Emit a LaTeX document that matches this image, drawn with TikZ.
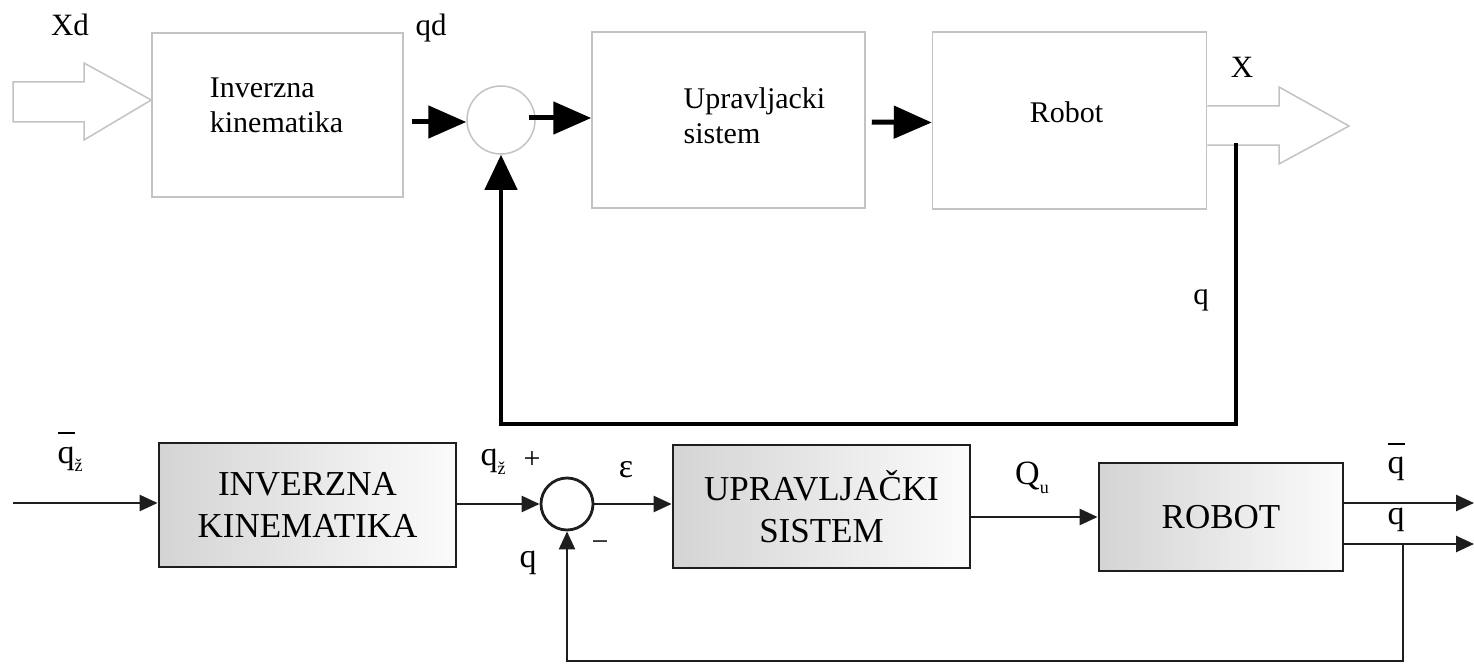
\documentclass[tikz,border=0pt]{standalone}
\usepackage{fontspec}
\setmainfont{Liberation Serif}
\usetikzlibrary{
    arrows.meta,
    positioning,
    calc
}
\definecolor{paleline}{RGB}{195, 195, 195}
\definecolor{darkline}{RGB}{30, 30, 30}
\definecolor{blockgray}{RGB}{212, 212, 212}

\newcommand{\barq}{\rlap{\rule[0.85em]{0.5em}{1.8pt}}q}
\newcommand{\lowsub}[1]{\raisebox{-0.25em}{\fontsize{18}{18}\selectfont #1}}

\begin{document}
\begin{tikzpicture}[x=1pt, y=-1pt,
        topbox/.style={rectangle, draw=paleline, line width=1.5pt, inner sep=0pt},
        toptext/.style={align=left, font=\fontsize{30}{35}\selectfont},
        toplabel/.style={font=\fontsize{31}{33}\selectfont},
        hollow/.style={draw=paleline, line width=1.5pt, fill=white, line join=miter},
        bigarrow/.style={-{Triangle[length=38pt, width=32pt]}, line width=5pt},
        fbline/.style={-{Triangle[length=35pt, width=32pt]}, line width=4.5pt},
        botbox/.style={rectangle, draw=darkline, line width=2.8pt, left color=blockgray, right color=gray!3, align=center, font=\fontsize{35}{42}\selectfont, inner sep=0pt},
        botlabel/.style={font=\fontsize{34}{36}\selectfont},
        signlabel/.style={font=\fontsize{30}{32}\selectfont},
        arrow/.style={-{Triangle[length=18pt, width=16pt]}, line width=2.6pt, draw=darkline}
    ]
        \useasboundingbox (0,0) rectangle (1474,666);

        % upper scheme
        \node[topbox, minimum width=251, minimum height=164] (ik) at (277.5,115) {};
        \node[toptext] (iktext) at ($(ik.center)+(-1,-10)$) {Inverzna\\kinematika};
        \node[circle, draw=paleline, line width=1.5pt, minimum size=68, inner sep=0pt] (sum1) at (501,120) {};
        \node[topbox, minimum width=273, minimum height=176] (us) at (728.5,120) {};
        \node[toptext] (ustext) at ($(us.center)+(26,-4)$) {Upravljacki\\sistem};
        \node[topbox, minimum width=274, minimum height=177] (rob) at (1069.5,120.5) {};
        \node[toptext] (robtext) at ($(rob.center)+(-3,-8)$) {Robot};

        \draw[hollow] (13,82) -- (84,82) -- (84,63) -- (ik.west |- 0,100) -- (84,140) -- (84,122) -- (13,122) -- cycle;
        \draw[hollow] (rob.east |- 0,106) -- (1279,106) -- (1279,87) -- (1349,126) -- (1279,164) -- (1279,145) -- (rob.east |- 0,145);

        \node[toplabel] (xd) at (70,25) {Xd};
        \node[toplabel] (qd) at (431,28) {qd};
        \node[toplabel] (xout) at (1242,67) {X};
        \node[toplabel] (qtop) at (1201,300) {q};

        \draw[bigarrow] ($(ik.east |- sum1)+(8,2)$) -- ($(sum1.west)+(0,2)$);
        \draw[bigarrow] ($(sum1.east)+(-7,-2)$) -- ($(us.west |- sum1)+(0,-2)$);
        \draw[bigarrow] ($(us.east)+(6,2)$) -- ($(rob.west)+(0,2)$);

        \coordinate (fbtop) at (1236,143);
        \coordinate (fbturn) at (1236,424);
        \draw[fbline] (fbtop) -- (fbturn) -| (sum1.south);

        % lower scheme
        \node[botbox, minimum width=297, minimum height=124] (bik) at (307.5,505) {INVERZNA\\KINEMATIKA};
        \node[circle, draw=darkline, line width=2.8pt, minimum size=52, inner sep=0pt] (sum2) at (567,504) {};
        \node[botbox, minimum width=297, minimum height=123] (bus) at (821.5,506.5) {UPRAVLJAČKI\\SISTEM};
        \node[botbox, minimum width=244, minimum height=108] (brob) at (1221,517) {ROBOT};

        \coordinate (inp) at (13,503);
        \coordinate (outbar) at (1474,503);
        \coordinate (outq) at (1474,544);
        \coordinate (fbsplit) at (1403,544);
        \coordinate (fbbot) at (1403,661);

        \draw[arrow] (inp) -- (bik.west |- inp);
        \draw[arrow] (bik.east |- sum2) -- (sum2.west);
        \draw[arrow] (sum2.east) -- (bus.west |- sum2);
        \draw[arrow] (bus.east |- brob.west) -- (brob.west);
        \draw[arrow] (brob.east |- outbar) -- (outbar);
        \draw[arrow] (brob.east |- outq) -- (outq);
        \draw[arrow] (fbsplit) -- (fbbot) -| (sum2.south);

        \node[botlabel] (qref) at (70,452) {\barq\lowsub{ž}};
        \node[botlabel] (qz) at (493,462) {q\lowsub{ž}};
        \node[signlabel] (plus) at (532,460) {+};
        \node[botlabel] (eps) at (626,470) {ε};
        \node[botlabel] (qfb) at (528,563) {q};
        \node[signlabel] (minus) at (600,546) {−};
        \node[botlabel] (qu) at (1032,478) {Q\lowsub{u}};
        \node[botlabel] (qbarout) at (1396,462) {\barq};
        \node[botlabel] (qout) at (1396,520) {q};
    \end{tikzpicture}
\end{document}
